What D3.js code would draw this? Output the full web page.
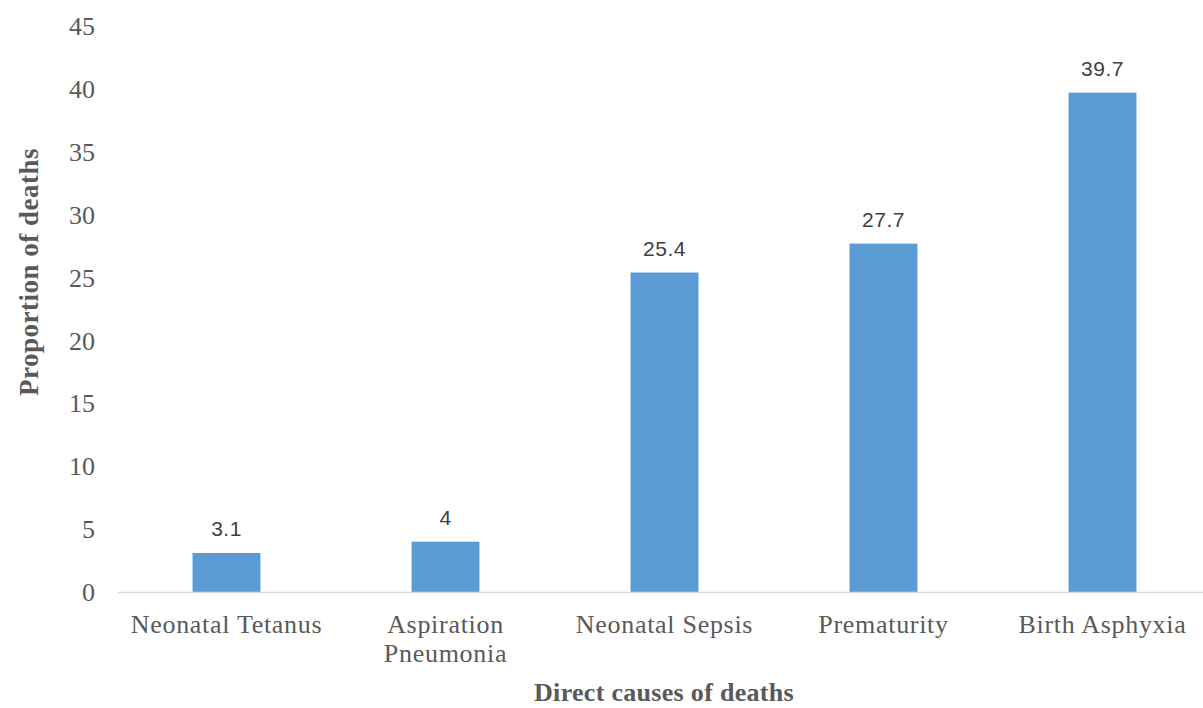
<!DOCTYPE html>
<html>
<head>
<meta charset="utf-8">
<title>Direct causes of deaths</title>
<script src="https://d3js.org/d3.v7.min.js"></script>
<style>
  body { margin: 0; background: #fff; }
  svg { display: block; }
  .tick-label { font-family: "Liberation Serif", "Times New Roman", serif; fill: #595959; }
  .val { font-family: "Liberation Sans", Arial, sans-serif; fill: #404040; }
  .ttl { font-family: "Liberation Serif", "Times New Roman", serif; font-weight: bold; fill: #595959; }
</style>
</head>
<body>
<div id="chart"></div>
<script>
// data
var causes = ["Neonatal Tetanus", "Aspiration Pneumonia", "Neonatal Sepsis", "Prematurity", "Birth Asphyxia"]
var proportions = [3.1, 4, 25.4, 27.7, 39.7]
var yTicks = [0, 5, 10, 15, 20, 25, 30, 35, 40, 45]

var width = 1203, height = 708

var svg = d3.select("#chart").append("svg")
    .attr("width", width)
    .attr("height", height)

// scales
var x = d3.scaleBand()
    .domain(causes)
    .range([117, 1212])
    .paddingInner(0.69)
    .paddingOuter(0.345)

var y = d3.scaleLinear()
    .domain([0, 45])
    .range([592, 26])

// y axis labels (no line, no ticks)
var yAxis = svg.append("g")
    .attr("transform", "translate(95,0)")
    .call(d3.axisLeft(y).tickValues(yTicks).tickSize(0).tickPadding(0))
yAxis.select(".domain").remove()
yAxis.selectAll("text")
    .attr("class", "tick-label")
    .attr("font-size", 26)
    .attr("dy", "0.33em")

// bars
svg.selectAll("rect.bar")
    .data(proportions)
    .enter()
    .append("rect")
    .attr("class", "bar")
    .attr("x", function (d, i) { return x(causes[i]) })
    .attr("width", x.bandwidth())
    .attr("y", function (d) { return y(d) })
    .attr("height", function (d) { return y(0) - y(d) })
    .attr("fill", "#5b9bd5")

// category axis
var xAxis = svg.append("g")
    .attr("transform", "translate(0," + y(0) + ")")
    .call(d3.axisBottom(x).tickSize(0).tickPadding(0))
xAxis.select(".domain")
    .attr("stroke", "#d9d9d9")
    .attr("stroke-width", 1.5)
xAxis.selectAll("text").remove()

// wrap "Aspiration Pneumonia" onto two lines like the original
var catLines = {
    "Neonatal Tetanus": ["Neonatal Tetanus"],
    "Aspiration Pneumonia": ["Aspiration", "Pneumonia"],
    "Neonatal Sepsis": ["Neonatal Sepsis"],
    "Prematurity": ["Prematurity"],
    "Birth Asphyxia": ["Birth Asphyxia"]
}
xAxis.selectAll(".tick").append("text")
    .attr("class", "tick-label")
    .attr("font-size", 26)
    .attr("letter-spacing", 0.7)
    .attr("text-anchor", "middle")
    .each(function (d) {
        var t = d3.select(this)
        catLines[d].forEach(function (line, k) {
            t.append("tspan")
                .attr("x", 0)
                .attr("y", 41 + k * 29)
                .text(line)
        })
    })

// value labels
svg.selectAll("text.val")
    .data(proportions)
    .enter()
    .append("text")
    .attr("class", "val")
    .attr("font-size", 21)
    .attr("letter-spacing", 0.5)
    .attr("text-anchor", "middle")
    .attr("x", function (d, i) { return x(causes[i]) + x.bandwidth() / 2 })
    .attr("y", function (d) { return y(d) - 17 })
    .text(function (d) { return d })

// axis titles
svg.append("text")
    .attr("class", "ttl")
    .attr("font-size", 26)
    .attr("letter-spacing", 0.3)
    .attr("text-anchor", "middle")
    .attr("x", 664)
    .attr("y", 701)
    .text("Direct causes  of deaths")

svg.append("text")
    .attr("class", "ttl")
    .attr("font-size", 27)
    .attr("letter-spacing", 0.5)
    .attr("text-anchor", "middle")
    .attr("transform", "translate(38,272) rotate(-90)")
    .text("Proportion of deaths")
</script>
</body>
</html>
